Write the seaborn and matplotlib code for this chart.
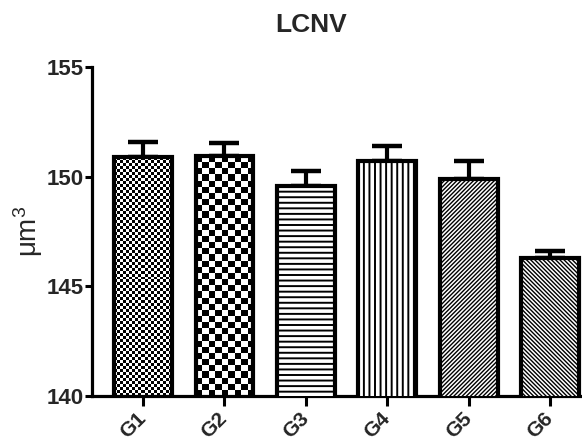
import numpy as np
import pandas as pd
import matplotlib
matplotlib.use("Agg")
import matplotlib.pyplot as plt
import seaborn as sns

groups = ["G1", "G2", "G3", "G4", "G5", "G6"]
means = [150.9, 150.95, 149.55, 150.7, 149.9, 146.3]
sems = [0.7, 0.6, 0.72, 0.7, 0.8, 0.3]
yticks = [140, 145, 150, 155]
title = "LCNV"
ylabel = "μm$^{3}$"

sns.set_theme(style="ticks")
plt.rcParams["font.family"] = ["Liberation Sans", "DejaVu Sans"]
plt.rcParams["mathtext.default"] = "regular"
plt.rcParams["hatch.linewidth"] = 1.0
plt.rcParams["hatch.color"] = "black"

fig = plt.figure(figsize=(5.82, 4.43), dpi=100)
ax = fig.add_axes([92 / 582, 47.3 / 443, 1 - 92 / 582, (395.7 - 67) / 443])

df = pd.DataFrame({"group": groups, "value": means})
sns.barplot(data=df, x="group", y="value", color="white", edgecolor="black",
            linewidth=3, width=0.71, ax=ax, errorbar=None, saturation=1)

ax.set_ylim(140, 155)
ax.set_xlim(-0.626, 5.39)

ax.errorbar(range(len(groups)), means, yerr=[np.zeros(len(sems)), sems],
            fmt="none", ecolor="black", elinewidth=3, capsize=10.5, capthick=3.2,
            zorder=1)

hatches = [None, None, "---", "|||", "/" * 8, "\\" * 8]
hatch_lw = [None, None, 1.4, 1.4, 1.0, 1.0]
cells = [3.0, 6.2, None, None, None, None]
fig.canvas.draw()
ybot = ax.get_ylim()[0]
for i, p in enumerate(ax.patches[:len(groups)]):
    p.set_zorder(3)
    if hatches[i]:
        p.set_hatch(hatches[i])
        if hasattr(p, "set_hatch_linewidth"):
            p.set_hatch_linewidth(hatch_lw[i])
    if cells[i]:
        p.set_facecolor("none")
        x0, w = p.get_x(), p.get_width()
        y0 = max(p.get_y(), ybot)
        y1 = p.get_y() + p.get_height()
        (px0, py0) = ax.transData.transform((x0, y0))
        (px1, py1) = ax.transData.transform((x0 + w, y1))
        nc = max(1, int(round(abs(px1 - px0) / cells[i])))
        nr = max(1, int(round(abs(py1 - py0) / cells[i])))
        yy, xx = np.mgrid[0:nr, 0:nc]
        board = ((xx + yy) % 2).astype(float)
        im = ax.imshow(board, cmap="gray", vmin=0, vmax=1, extent=(x0, x0 + w, y0, y1),
                       interpolation="nearest", aspect="auto", zorder=2, origin="lower")
        im.set_clip_path(p)
ax.set_xlim(-0.626, 5.39)
ax.set_ylim(140, 155)

sns.despine(ax=ax)
for s in ["left", "bottom"]:
    ax.spines[s].set_linewidth(2.3)
    ax.spines[s].set_color("black")

ax.set_yticks(yticks)
ax.set_yticklabels([str(t) for t in yticks], fontsize=16, fontweight="bold")
ax.set_xticks(range(len(groups)))
ax.set_xticklabels(groups, fontsize=15, fontweight="bold", rotation=45,
                   ha="right", va="center", rotation_mode="anchor")
ax.tick_params(axis="y", length=5, width=2.2, pad=1, color="black")
ax.tick_params(axis="x", length=7, width=2.2, pad=7, color="black")
ax.set_xlabel("")
ax.set_ylabel(ylabel, fontsize=20, labelpad=1)

fig.text(311 / 582, 1 - 25 / 443, title, ha="center", va="center",
         fontsize=19, fontweight="bold")

fig.savefig("out.png", dpi=100)
